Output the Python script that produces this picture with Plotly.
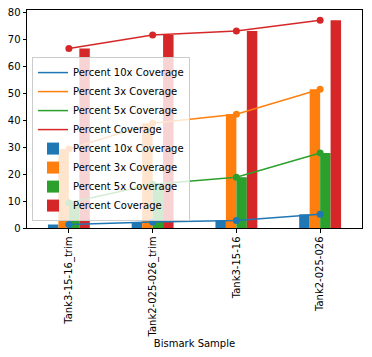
import plotly.graph_objects as go

samples = ["Tank3-15-16_trim", "Tank2-025-026_trim", "Tank3-15-16", "Tank2-025-026"]
pct_10x = [1.3, 2.2, 2.8, 5.1]
pct_3x = [29.4, 39.0, 42.3, 51.6]
pct_5x = [9.4, 16.3, 18.9, 27.9]
pct_cov = [66.8, 71.8, 73.3, 77.3]

series = [
    ("Percent 10x Coverage", pct_10x, "#1f77b4"),
    ("Percent 3x Coverage", pct_3x, "#ff7f0e"),
    ("Percent 5x Coverage", pct_5x, "#2ca02c"),
    ("Percent Coverage", pct_cov, "#d62728"),
]

fig = go.Figure()
# line entries (legend shows lines only)
for name, vals, col in series:
    fig.add_trace(go.Scatter(x=samples, y=vals, mode="lines", name=name,
                             line=dict(color=col, width=1.5), legendrank=1))
for name, vals, col in series:
    fig.add_trace(go.Bar(x=samples, y=vals, name=name, marker=dict(color=col, line=dict(width=0)),
                         legendrank=2))
for name, vals, col in series:
    fig.add_trace(go.Scatter(x=samples, y=vals, mode="markers", name=name, showlegend=False,
                             marker=dict(color=col, size=7)))

font = dict(family="DejaVu Sans", size=10, color="black")
# page body has an 8px default margin, so the figure is offset by 8px
fig.update_layout(
    width=364, height=349,
    margin=dict(l=19, r=10, t=2, b=129, autoexpand=False),
    paper_bgcolor="white", plot_bgcolor="white",
    font=font,
    barmode="group", bargap=0.5, bargroupgap=0,
    showlegend=True,
    legend=dict(x=0.015, y=0.784, xanchor="left", yanchor="top",
                bgcolor="rgba(255,255,255,0.8)", bordercolor="#cccccc", borderwidth=1,
                font=dict(family="DejaVu Sans", size=10, color="black"),
                tracegroupgap=0, itemwidth=30, traceorder="normal"),
    xaxis=dict(type="category", range=[-0.5, 3.5], showline=True, linecolor="black", linewidth=1,
               mirror=True, ticks="outside", ticklen=3.5, tickcolor="black", tickangle=-90,
               showgrid=False, zeroline=False, automargin=False, ticklabeloverflow="allow",
               title=dict(text="Bismark Sample", font=font, standoff=2)),
    yaxis=dict(range=[0, 81.1], showline=True, linecolor="black", linewidth=1, mirror=True,
               ticks="outside", ticklen=3.5, tickcolor="black", dtick=10, tick0=0,
               showgrid=False, zeroline=False, automargin=False, ticklabeloverflow="allow"),
)
fig.write_html("out.html")
